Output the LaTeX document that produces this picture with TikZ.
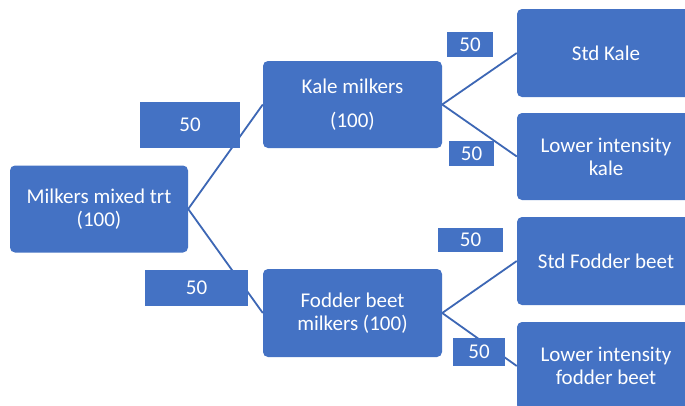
\documentclass[tikz,border=0pt]{standalone}
\usepackage{fontspec}
\setmainfont{Carlito}
\definecolor{boxblue}{HTML}{4472C4}
\definecolor{lineblue}{HTML}{3D67B5}
\begin{document}
\begin{tikzpicture}[x=1pt,y=-1pt,
  box/.style={draw=none,fill=boxblue,rounded corners=5pt,text=white,align=center,
    font=\fontsize{21}{23}\selectfont,inner sep=0pt},
  lbl/.style={fill=boxblue,text=white,font=\fontsize{21}{23}\selectfont,inner sep=0pt},
  conn/.style={draw=lineblue,line width=1.8pt}]
\useasboundingbox (0,0) rectangle (685,405);
\clip (0,0) rectangle (685,405);
\fill[white] (0,0) rectangle (685,405);
% boxes
\node[box,minimum width=178pt,minimum height=87pt] (main) at (99,209) {Milkers mixed trt\\(100)};
\node[box,minimum width=179pt,minimum height=87pt] (kale) at (352.5,104.5) {Kale milkers\\[11pt](100)};
\node[box,minimum width=179pt,minimum height=88pt] (fodder) at (352.5,313) {Fodder beet\\milkers (100)};
\node[box,minimum width=178pt,minimum height=88pt] (stdkale) at (606,53) {Std Kale};
\node[box,minimum width=178pt,minimum height=87pt] (lowkale) at (606,156.5) {Lower intensity\\kale};
\node[box,minimum width=178pt,minimum height=88pt] (stdfod) at (606,261) {Std Fodder beet};
\node[box,minimum width=178pt,minimum height=88pt] (lowfod) at (606,366) {Lower intensity\\fodder beet};
% connectors
\draw[conn] (main.east) -- (kale.west);
\draw[conn] (main.east) -- (fodder.west);
\draw[conn] (kale.east) -- (stdkale.west);
\draw[conn] (kale.east) -- (lowkale.west);
\draw[conn] (fodder.east) -- (stdfod.west);
\draw[conn] (fodder.east) -- (lowfod.west);
% labels
\node[lbl,minimum width=100pt,minimum height=46pt] (l1) at (190,125) {50};
\node[lbl,minimum width=103pt,minimum height=36pt] (l2) at (196.5,288) {50};
\node[lbl,minimum width=46pt,minimum height=25pt] (l3) at (470,44.5) {50};
\node[lbl,minimum width=45pt,minimum height=25pt] (l4) at (471.5,153.5) {50};
\node[lbl,minimum width=65pt,minimum height=24pt] (l5) at (470.5,240) {50};
\node[lbl,minimum width=52pt,minimum height=28pt] (l6) at (479,352) {50};
\end{tikzpicture}
\end{document}
